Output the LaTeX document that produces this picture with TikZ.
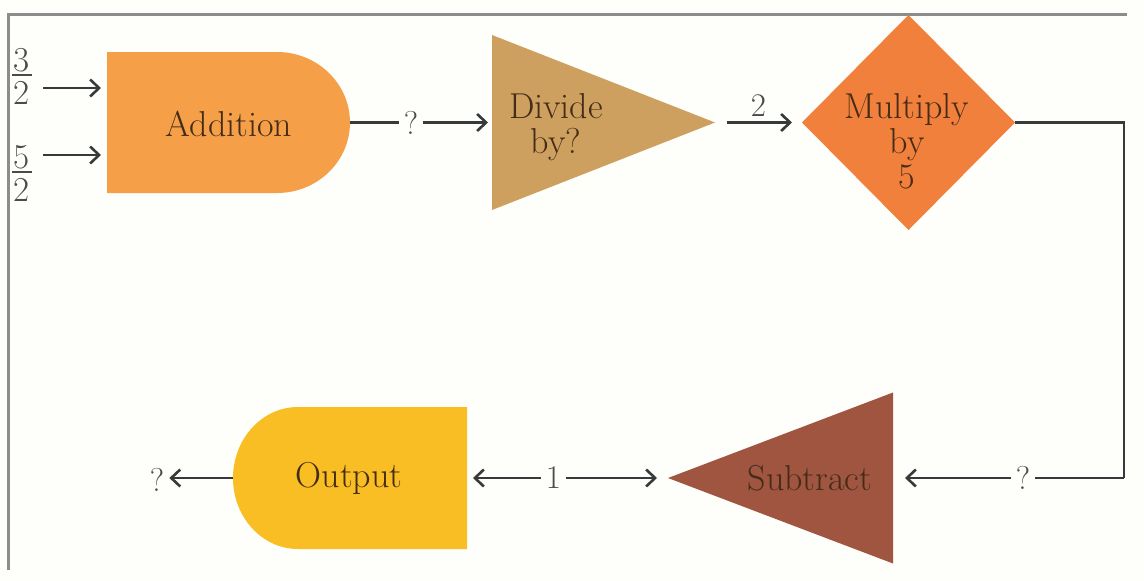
\documentclass[tikz,border=0pt]{standalone}
\usetikzlibrary{arrows.meta,backgrounds}
\definecolor{bg}{RGB}{254,254,251}
\definecolor{linec}{RGB}{55,58,58}
\definecolor{labc}{RGB}{75,75,75}
\definecolor{txtc}{RGB}{68,44,24}
\definecolor{framec}{RGB}{140,140,140}
\definecolor{addc}{RGB}{245,160,72}
\definecolor{divc}{RGB}{205,160,95}
\definecolor{mulc}{RGB}{240,128,60}
\definecolor{subc}{RGB}{160,85,65}
\definecolor{outc}{RGB}{248,190,35}
\tikzset{
  geom/.style={draw=none, inner sep=0pt, outer sep=0pt},
  conn/.style={draw=linec, line width=2.6pt},
  arr/.style={conn, -{Straight Barb[length=9pt,width=17pt]}},
  arrboth/.style={conn, {Straight Barb[length=9pt,width=17pt]}-{Straight Barb[length=9pt,width=17pt]}},
  lbl/.style={text=labc, font=\fontsize{33}{36}\selectfont, inner sep=3pt},
  frac/.style={text=labc, font=\fontsize{35}{36}\selectfont, inner sep=0pt},
  gap/.style={lbl, fill=bg, inner xsep=5pt},
  shapetext/.style={text=txtc, font=\fontsize{36}{35}\selectfont, align=center, inner sep=0pt},
  frame/.style={draw=framec, line width=3pt}
}
\newcommand{\myfrac}[2]{\vbox{\hbox to 20pt{\hss#1\hss}\kern2pt\hrule height 1.8pt\kern5pt\hbox to 20pt{\hss#2\hss}}}
\begin{document}
\begin{tikzpicture}[x=1pt,y=-1pt]
\useasboundingbox (0,0) rectangle (1144,581);
\begin{pgfonlayer}{background}
  \fill[bg] (0,0) rectangle (1144,581);
\end{pgfonlayer}
% frame
\draw[frame] (8,570) -- (8,14) -- (1127,14);
% geometry nodes
\node[geom, minimum width=243pt, minimum height=141pt] (add) at (228.5,122.5) {};
\node[geom, minimum width=223pt, minimum height=175pt] (div) at (603.5,122.5) {};
\node[geom, minimum width=213pt, minimum height=215pt] (mul) at (908.5,122.5) {};
\node[geom, minimum width=225pt, minimum height=171pt] (sub) at (780.5,478) {};
\node[geom, minimum width=234pt, minimum height=142pt] (out) at (350,478) {};
% shapes
\fill[addc] (add.south west) -- (add.north west) -- ([xshift=-73pt]add.north east)
  arc[start angle=90, end angle=-90, x radius=73pt, y radius=70.5pt] -- cycle;
\fill[divc] (div.north west) -- (div.east) -- (div.south west) -- cycle;
\fill[mulc] (mul.north) -- (mul.east) -- (mul.south) -- (mul.west) -- cycle;
\fill[subc] (sub.west) -- (sub.north east) -- (sub.south east) -- cycle;
\fill[outc] (out.north east) -- (out.south east) -- ([xshift=65pt]out.south west)
  arc[start angle=-90, end angle=-270, x radius=65pt, y radius=71pt] -- cycle;
% texts in shapes
\node[shapetext] (addT) at (229,124) {Addition};
\node[shapetext] (divT) at (556,127) {Divide\\by?};
\node[shapetext] (mulT) at (907,141) {Multiply\\by\\5};
\node[shapetext] (subT) at (810,478) {Subtract};
\node[shapetext] (outT) at (349,478) {Output};
% inputs
\node[frac] (f1) at (22,76.5) {\myfrac{3}{2}};
\node[frac] (f2) at (22,173.5) {\myfrac{5}{2}};
\coordinate (in1) at (43,88);
\coordinate (in2) at (43,155);
\draw[arr, shorten >=6pt] (in1) -- (in1 -| add.west);
\draw[arr, shorten >=6pt] (in2) -- (in2 -| add.west);
% connectors
\draw[arr, shorten >=4pt] (add.east) -- node[gap, pos=0.43] {?} (div.west);
\draw[arr, shorten <=12pt, shorten >=10pt] (div.east) -- node[lbl, above, yshift=2pt] {2} (mul.west);
\coordinate (cR) at (1124,478);
\draw[conn] (mul.east) -| (cR);
\draw[arr, shorten >=12pt] (cR) -- node[gap, pos=0.437] {?} (sub.east);
\draw[arrboth, shorten <=6pt, shorten >=11pt] (out.east) -- node[gap, pos=0.43] {1} (sub.west);
\node[lbl] (q) at (157,480) {?};
\draw[arr, shorten >=2pt] (out.west) -- (out.west -| q.east);
\end{tikzpicture}
\end{document}
